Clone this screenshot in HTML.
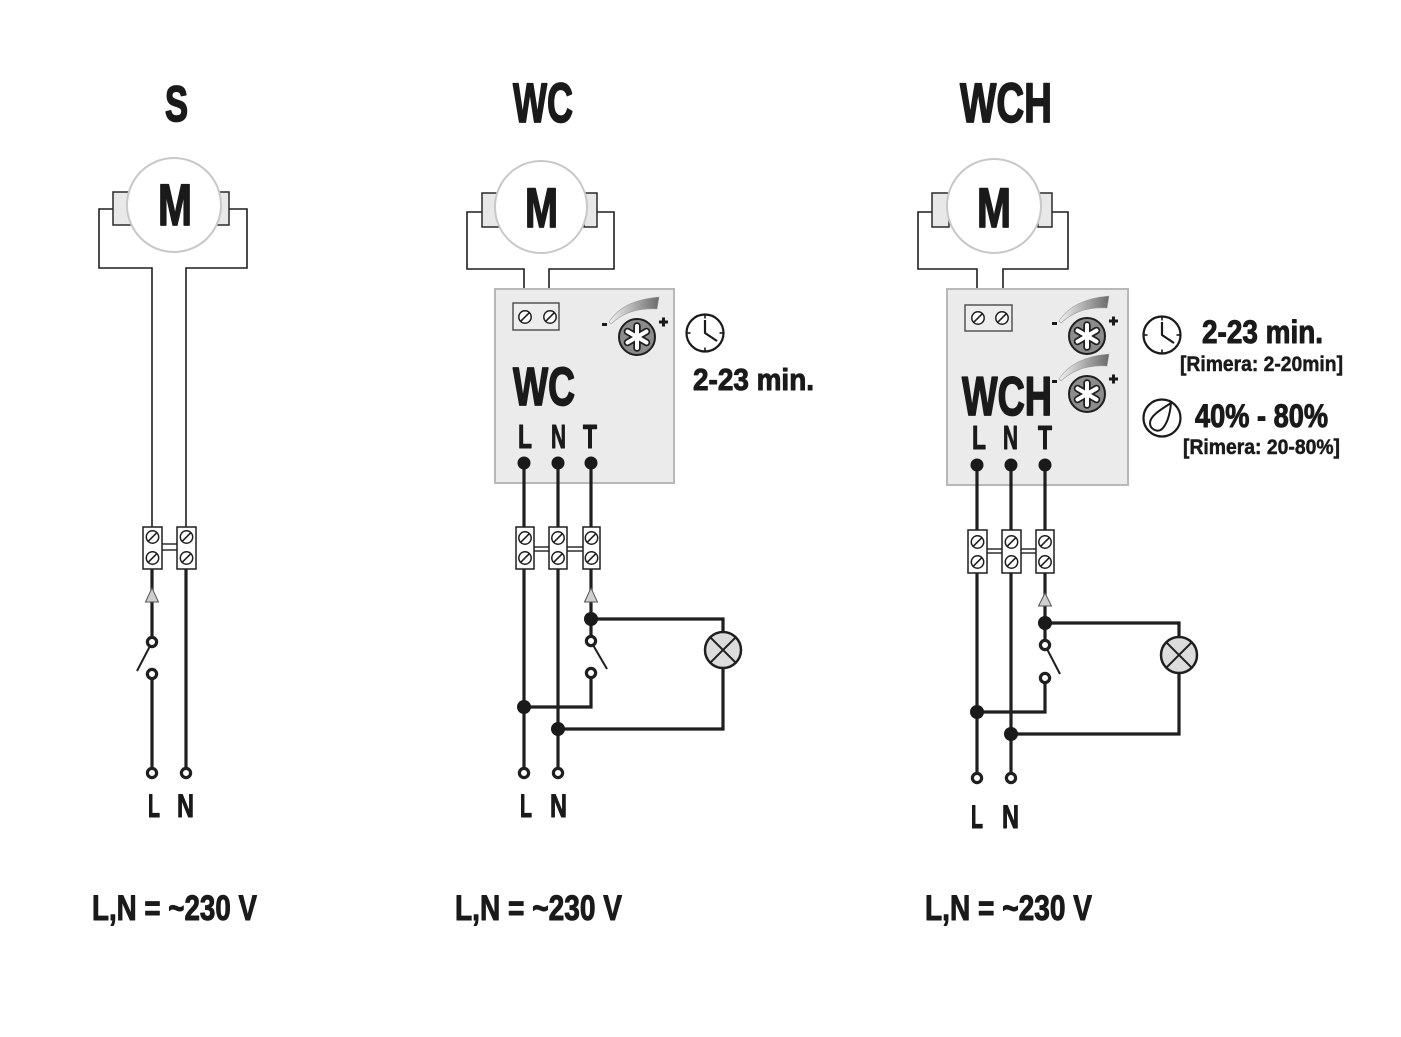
<!DOCTYPE html>
<html>
<head>
<meta charset="utf-8">
<style>
  html,body{margin:0;padding:0;background:#fff;}
  svg{display:block;}
  text{font-family:"Liberation Sans","DejaVu Sans",sans-serif;font-weight:bold;fill:#1a1a1a;stroke:#1a1a1a;stroke-linejoin:round;}
  .b1{stroke-width:1.7px;}
  .b2{stroke-width:1.0px;}
  .b3{stroke-width:0.5px;}
</style>
</head>
<body>
<svg width="1401" height="1037" viewBox="0 0 1401 1037" xmlns="http://www.w3.org/2000/svg">
  <defs>
    <linearGradient id="sw" x1="0" y1="0" x2="1" y2="0">
      <stop offset="0" stop-color="#f2f2f2"/>
      <stop offset="1" stop-color="#6a6a6a"/>
    </linearGradient>
    <g id="fan">
      <path d="M -28,-15 Q -14,-37 22,-40 L 20,-28 Q -8,-30 -26,-13 Z" fill="url(#sw)" stroke="#999" stroke-width="0.6"/>
      <rect x="-35" y="-14" width="5" height="3" fill="#1a1a1a"/>
      <rect x="22" y="-16.5" width="9" height="3" fill="#1a1a1a"/>
      <rect x="25" y="-19.5" width="3" height="9" fill="#1a1a1a"/>
      <circle cx="0" cy="0" r="18" fill="#8c8c8c" stroke="#1f1f1f" stroke-width="2"/>
      <g stroke="#1f1f1f" stroke-width="7.5" stroke-linecap="round">
        <line x1="0" y1="-11" x2="0" y2="11"/>
        <line x1="-9.5" y1="-5.5" x2="9.5" y2="5.5"/>
        <line x1="-9.5" y1="5.5" x2="9.5" y2="-5.5"/>
      </g>
      <g stroke="#fff" stroke-width="4" stroke-linecap="round">
        <line x1="0" y1="-11" x2="0" y2="11"/>
        <line x1="-9.5" y1="-5.5" x2="9.5" y2="5.5"/>
        <line x1="-9.5" y1="5.5" x2="9.5" y2="-5.5"/>
      </g>
    </g>
    <g id="clock">
      <circle cx="0" cy="0" r="18.5" fill="#fff" stroke="#1a1a1a" stroke-width="2.2"/>
      <g stroke="#1a1a1a" stroke-width="1.6">
        <line x1="0" y1="-18" x2="0" y2="-14.5"/>
        <line x1="0" y1="18" x2="0" y2="14.5"/>
        <line x1="-18" y1="0" x2="-14.5" y2="0"/>
        <line x1="18" y1="0" x2="14.5" y2="0"/>
      </g>
      <polyline points="0,-13 0,0 12,8" fill="none" stroke="#1a1a1a" stroke-width="2.2" stroke-linejoin="round"/>
    </g>
    <g id="lamp">
      <circle cx="0" cy="0" r="18" fill="#dcdcdc" stroke="#1f1f1f" stroke-width="2.5"/>
      <line x1="-12.7" y1="-12.7" x2="12.7" y2="12.7" stroke="#1f1f1f" stroke-width="2"/>
      <line x1="-12.7" y1="12.7" x2="12.7" y2="-12.7" stroke="#1f1f1f" stroke-width="2"/>
    </g>
    <g id="screw">
      <circle cx="0" cy="0" r="6.2" fill="#fff" stroke="#1f1f1f" stroke-width="1.5"/>
      <line x1="-4.3" y1="4.3" x2="4.3" y2="-4.3" stroke="#1f1f1f" stroke-width="1.6"/>
    </g>
    <g id="ring">
      <circle cx="0" cy="0" r="4.6" fill="#fff" stroke="#1f1f1f" stroke-width="3.2"/>
    </g>
  </defs>

  <!-- ================= S ================= -->
  <text class="b1" x="165" y="121" font-size="50" textLength="23" lengthAdjust="spacingAndGlyphs">S</text>
  <g fill="none" stroke="#1f1f1f" stroke-width="1.6">
    <polyline points="113,209 99,209 99,268 152,268 152,527"/>
    <polyline points="229,209 247,209 247,268 186,268 186,527"/>
  </g>
  <rect x="113" y="192" width="18" height="33" fill="#e8e8e8" stroke="#2a2a2a" stroke-width="1.5"/>
  <rect x="216" y="192" width="13" height="33" fill="#e8e8e8" stroke="#2a2a2a" stroke-width="1.5"/>
  <circle cx="174" cy="205" r="47" fill="#fff" stroke="#c8c8c8" stroke-width="2"/>
  <text class="b1" x="158" y="225" font-size="58" textLength="34" lengthAdjust="spacingAndGlyphs">M</text>
  <rect x="143" y="527" width="19" height="42" fill="#fff" stroke="#1f1f1f" stroke-width="1.5"/>
  <rect x="177" y="527" width="19" height="42" fill="#fff" stroke="#1f1f1f" stroke-width="1.5"/>
  <line x1="162" y1="544" x2="177" y2="544" stroke="#1f1f1f" stroke-width="1.4"/>
  <line x1="162" y1="550" x2="177" y2="550" stroke="#1f1f1f" stroke-width="1.4"/>
  <use href="#screw" x="152.5" y="537"/>
  <use href="#screw" x="152.5" y="558"/>
  <use href="#screw" x="186.5" y="537"/>
  <use href="#screw" x="186.5" y="558"/>
  <g stroke="#1f1f1f" stroke-width="3.2" fill="none">
    <line x1="152" y1="569" x2="152" y2="637"/>
    <line x1="152" y1="679" x2="152" y2="768"/>
    <line x1="186" y1="569" x2="186" y2="768"/>
  </g>
  <polygon points="152,588 145.5,602 158.5,602" fill="#cfcfcf" stroke="#555" stroke-width="1"/>
  <line x1="150" y1="646" x2="137" y2="671" stroke="#1f1f1f" stroke-width="2"/>
  <use href="#ring" x="152" y="642"/>
  <use href="#ring" x="152" y="674"/>
  <use href="#ring" x="152" y="773"/>
  <use href="#ring" x="186" y="773"/>
  <text class="b2" x="148" y="817" font-size="32" textLength="12" lengthAdjust="spacingAndGlyphs">L</text>
  <text class="b2" x="177" y="817" font-size="32" textLength="17" lengthAdjust="spacingAndGlyphs">N</text>
  <text class="b2" x="92" y="920" font-size="35" textLength="165" lengthAdjust="spacingAndGlyphs">L,N = ~230 V</text>

  <!-- ================= WC ================= -->
  <text class="b1" x="513" y="122" font-size="56" textLength="60" lengthAdjust="spacingAndGlyphs">WC</text>
  <g fill="none" stroke="#1f1f1f" stroke-width="1.6">
    <polyline points="482,212 467,212 467,269 524,269 524,303"/>
    <polyline points="597,212 614,212 614,269 549,269 549,303"/>
  </g>
  <rect x="482" y="193" width="17" height="34" fill="#e8e8e8" stroke="#2a2a2a" stroke-width="1.5"/>
  <rect x="584" y="193" width="13" height="34" fill="#e8e8e8" stroke="#2a2a2a" stroke-width="1.5"/>
  <circle cx="541" cy="207" r="46" fill="#fff" stroke="#c8c8c8" stroke-width="2"/>
  <text class="b1" x="525" y="227" font-size="56" textLength="33" lengthAdjust="spacingAndGlyphs">M</text>
  <rect x="495" y="289" width="179" height="194" fill="#ebebeb" stroke="#b8b8b8" stroke-width="2"/>
  <rect x="513" y="303" width="46" height="27" fill="#ededed" stroke="#555" stroke-width="1.5"/>
  <use href="#screw" x="525" y="317"/>
  <use href="#screw" x="550" y="317"/>
  <use href="#fan" x="637" y="337"/>
  <text class="b1" x="513" y="405" font-size="54" textLength="62" lengthAdjust="spacingAndGlyphs">WC</text>
  <text class="b2" x="518" y="448" font-size="33" textLength="14" lengthAdjust="spacingAndGlyphs">L</text>
  <text class="b2" x="551" y="448" font-size="33" textLength="15" lengthAdjust="spacingAndGlyphs">N</text>
  <text class="b2" x="583" y="448" font-size="33" textLength="14" lengthAdjust="spacingAndGlyphs">T</text>
  <use href="#clock" x="705" y="333"/>
  <text class="b2" x="693" y="390" font-size="31" textLength="121" lengthAdjust="spacingAndGlyphs">2-23 min.</text>
  <g stroke="#1f1f1f" stroke-width="3.2" fill="none">
    <line x1="524" y1="463" x2="524" y2="527"/>
    <line x1="558" y1="463" x2="558" y2="527"/>
    <line x1="591" y1="463" x2="591" y2="527"/>
    <line x1="524" y1="569" x2="524" y2="768"/>
    <line x1="558" y1="569" x2="558" y2="768"/>
    <line x1="591" y1="569" x2="591" y2="636"/>
    <polyline points="591,678 591,707 524,707"/>
    <polyline points="591,619 723,619 723,632"/>
    <polyline points="723,668 723,729 558,729"/>
  </g>
  <circle cx="524" cy="463" r="6.5" fill="#1a1a1a"/>
  <circle cx="558" cy="463" r="6.5" fill="#1a1a1a"/>
  <circle cx="591" cy="463" r="6.5" fill="#1a1a1a"/>
  <rect x="516" y="527" width="18" height="42" fill="#fff" stroke="#1f1f1f" stroke-width="1.5"/>
  <rect x="549" y="527" width="18" height="42" fill="#fff" stroke="#1f1f1f" stroke-width="1.5"/>
  <rect x="583" y="527" width="17" height="42" fill="#fff" stroke="#1f1f1f" stroke-width="1.5"/>
  <g stroke="#1f1f1f" stroke-width="1.4">
    <line x1="534" y1="547" x2="549" y2="547"/>
    <line x1="534" y1="551" x2="549" y2="551"/>
    <line x1="567" y1="547" x2="583" y2="547"/>
    <line x1="567" y1="551" x2="583" y2="551"/>
  </g>
  <use href="#screw" x="525" y="538"/>
  <use href="#screw" x="525" y="558"/>
  <use href="#screw" x="558" y="538"/>
  <use href="#screw" x="558" y="558"/>
  <use href="#screw" x="591.5" y="538"/>
  <use href="#screw" x="591.5" y="558"/>
  <polygon points="591,588 584.5,602 597.5,602" fill="#cfcfcf" stroke="#555" stroke-width="1"/>
  <circle cx="591" cy="619" r="7" fill="#1a1a1a"/>
  <circle cx="524" cy="707" r="7" fill="#1a1a1a"/>
  <circle cx="558" cy="729" r="7" fill="#1a1a1a"/>
  <line x1="593" y1="645" x2="607" y2="669" stroke="#1f1f1f" stroke-width="2"/>
  <use href="#ring" x="591" y="641"/>
  <use href="#ring" x="591" y="673"/>
  <use href="#lamp" x="723" y="650"/>
  <use href="#ring" x="524" y="773"/>
  <use href="#ring" x="558" y="773"/>
  <text class="b2" x="520" y="817" font-size="32" textLength="12" lengthAdjust="spacingAndGlyphs">L</text>
  <text class="b2" x="550" y="817" font-size="32" textLength="17" lengthAdjust="spacingAndGlyphs">N</text>
  <text class="b2" x="455" y="920" font-size="35" textLength="167" lengthAdjust="spacingAndGlyphs">L,N = ~230 V</text>

  <!-- ================= WCH ================= -->
  <text class="b1" x="960" y="122" font-size="56" textLength="92" lengthAdjust="spacingAndGlyphs">WCH</text>
  <g fill="none" stroke="#1f1f1f" stroke-width="1.6">
    <polyline points="932,212 918,212 918,269 977,269 977,305"/>
    <polyline points="1052,212 1068,212 1068,269 1003,269 1003,305"/>
  </g>
  <rect x="932" y="193" width="17" height="34" fill="#e8e8e8" stroke="#2a2a2a" stroke-width="1.5"/>
  <rect x="1038" y="193" width="14" height="34" fill="#e8e8e8" stroke="#2a2a2a" stroke-width="1.5"/>
  <circle cx="994" cy="206" r="47" fill="#fff" stroke="#c8c8c8" stroke-width="2"/>
  <text class="b1" x="977" y="227" font-size="56" textLength="34" lengthAdjust="spacingAndGlyphs">M</text>
  <rect x="947" y="289" width="181" height="196" fill="#ebebeb" stroke="#b8b8b8" stroke-width="2"/>
  <rect x="965" y="305" width="47" height="26" fill="#ededed" stroke="#555" stroke-width="1.5"/>
  <use href="#screw" x="978" y="318"/>
  <use href="#screw" x="1002" y="318"/>
  <use href="#fan" x="1087" y="336"/>
  <use href="#fan" x="1087" y="394"/>
  <text class="b1" x="962" y="415" font-size="55" textLength="90" lengthAdjust="spacingAndGlyphs">WCH</text>
  <text class="b2" x="972" y="449" font-size="33" textLength="14" lengthAdjust="spacingAndGlyphs">L</text>
  <text class="b2" x="1003" y="449" font-size="33" textLength="15" lengthAdjust="spacingAndGlyphs">N</text>
  <text class="b2" x="1038" y="449" font-size="33" textLength="14" lengthAdjust="spacingAndGlyphs">T</text>
  <use href="#clock" x="1162" y="335"/>
  <text class="b2" x="1202" y="343" font-size="32" textLength="121" lengthAdjust="spacingAndGlyphs">2-23 min.</text>
  <text class="b3" x="1180" y="371" font-size="21" textLength="163" lengthAdjust="spacingAndGlyphs">[Rimera: 2-20min]</text>
  <circle cx="1162" cy="418" r="18.5" fill="#fff" stroke="#1a1a1a" stroke-width="2.2"/>
  <path d="M 1171,403 C 1170,414 1167,424 1162,429 C 1157,433 1150,429 1150,423 C 1150,416 1160,410 1171,403 Z" fill="none" stroke="#1a1a1a" stroke-width="2" stroke-linejoin="round"/>
  <text class="b2" x="1195" y="427" font-size="32" textLength="133" lengthAdjust="spacingAndGlyphs">40% - 80%</text>
  <text class="b3" x="1183" y="454" font-size="21" textLength="157" lengthAdjust="spacingAndGlyphs">[Rimera: 20-80%]</text>
  <g stroke="#1f1f1f" stroke-width="3.2" fill="none">
    <line x1="977" y1="465" x2="977" y2="530"/>
    <line x1="1011" y1="465" x2="1011" y2="530"/>
    <line x1="1045" y1="465" x2="1045" y2="530"/>
    <line x1="977" y1="573" x2="977" y2="773"/>
    <line x1="1011" y1="573" x2="1011" y2="773"/>
    <line x1="1045" y1="573" x2="1045" y2="640"/>
    <polyline points="1045,683 1045,712 977,712"/>
    <polyline points="1045,623 1179,623 1179,637"/>
    <polyline points="1179,673 1179,734 1011,734"/>
  </g>
  <circle cx="977" cy="465" r="6.5" fill="#1a1a1a"/>
  <circle cx="1011" cy="465" r="6.5" fill="#1a1a1a"/>
  <circle cx="1045" cy="465" r="6.5" fill="#1a1a1a"/>
  <rect x="968" y="530" width="19" height="43" fill="#fff" stroke="#1f1f1f" stroke-width="1.5"/>
  <rect x="1002" y="530" width="19" height="43" fill="#fff" stroke="#1f1f1f" stroke-width="1.5"/>
  <rect x="1036" y="530" width="18" height="43" fill="#fff" stroke="#1f1f1f" stroke-width="1.5"/>
  <g stroke="#1f1f1f" stroke-width="1.4">
    <line x1="987" y1="549" x2="1002" y2="549"/>
    <line x1="987" y1="553" x2="1002" y2="553"/>
    <line x1="1021" y1="549" x2="1036" y2="549"/>
    <line x1="1021" y1="553" x2="1036" y2="553"/>
  </g>
  <use href="#screw" x="977.5" y="542"/>
  <use href="#screw" x="977.5" y="562"/>
  <use href="#screw" x="1011.5" y="542"/>
  <use href="#screw" x="1011.5" y="562"/>
  <use href="#screw" x="1045" y="542"/>
  <use href="#screw" x="1045" y="562"/>
  <polygon points="1045,593 1038.5,606 1051.5,606" fill="#cfcfcf" stroke="#555" stroke-width="1"/>
  <circle cx="1045" cy="623" r="7" fill="#1a1a1a"/>
  <circle cx="977" cy="712" r="7" fill="#1a1a1a"/>
  <circle cx="1011" cy="734" r="7" fill="#1a1a1a"/>
  <line x1="1047" y1="649" x2="1060" y2="674" stroke="#1f1f1f" stroke-width="2"/>
  <use href="#ring" x="1045" y="645"/>
  <use href="#ring" x="1045" y="678"/>
  <use href="#lamp" x="1179" y="655"/>
  <use href="#ring" x="977" y="778"/>
  <use href="#ring" x="1011" y="778"/>
  <text class="b2" x="971" y="828" font-size="32" textLength="12" lengthAdjust="spacingAndGlyphs">L</text>
  <text class="b2" x="1002" y="828" font-size="32" textLength="17" lengthAdjust="spacingAndGlyphs">N</text>
  <text class="b2" x="925" y="920" font-size="35" textLength="167" lengthAdjust="spacingAndGlyphs">L,N = ~230 V</text>
</svg>
</body>
</html>
